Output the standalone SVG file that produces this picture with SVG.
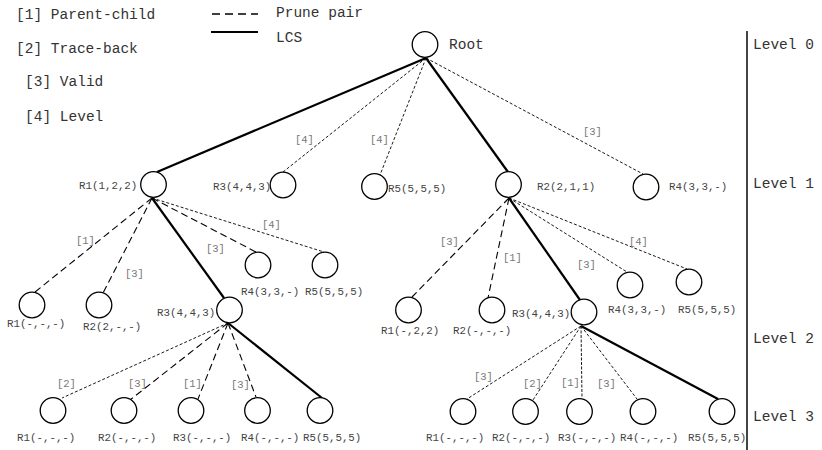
<svg xmlns="http://www.w3.org/2000/svg" width="822" height="450" viewBox="0 0 822 450">
<style>
.big{font-family:"Liberation Mono",monospace;font-size:14.5px;fill:#333}
.nl{font-family:"Liberation Mono",monospace;font-size:10.8px;fill:#444}
.el{font-family:"Liberation Mono",monospace;font-size:10.5px;fill:#777}
.nd{fill:#fff;stroke:#000;stroke-width:1.3}
.lcs{stroke:#000;stroke-width:2.2;fill:none}
.dash{stroke:#000;stroke-width:1.1;stroke-dasharray:7,4;fill:none}
.dot{stroke:#000;stroke-width:0.9;stroke-dasharray:3,2;fill:none}
</style>
<rect width="822" height="450" fill="#fff"/>
<g id="legend">
<text class="big" x="16" y="19">[1] Parent-child</text>
<text class="big" x="16" y="53">[2] Trace-back</text>
<text class="big" x="25" y="86">[3] Valid</text>
<text class="big" x="25" y="121">[4] Level</text>
<line class="dash" x1="212" y1="14" x2="258" y2="14" style="stroke-dasharray:8,5;stroke-width:1.3"/>
<text class="big" x="276" y="17">Prune pair</text>
<line class="lcs" x1="211" y1="32" x2="258" y2="32"/>
<text class="big" x="276" y="42">LCS</text>
</g>
<g id="levels">
<line x1="747" y1="31" x2="747" y2="450" stroke="#444" stroke-width="2"/>
<text class="big" x="753" y="49">Level 0</text>
<text class="big" x="753" y="188">Level 1</text>
<text class="big" x="753" y="343">Level 2</text>
<text class="big" x="753" y="421">Level 3</text>
</g>
<g id="connectors">
<line class="lcs" x1="426" y1="58" x2="157" y2="172"/>
<line class="dot" x1="426" y1="58" x2="283" y2="172"/>
<line class="dot" x1="426" y1="58" x2="380" y2="175"/>
<line class="lcs" x1="426" y1="58" x2="508" y2="172"/>
<line class="dot" x1="426" y1="58" x2="643" y2="174"/>
<line class="dash" x1="152" y1="198" x2="35" y2="292"/>
<line class="dash" x1="152" y1="198" x2="103" y2="293"/>
<line class="lcs" x1="152" y1="198" x2="224" y2="298"/>
<line class="dash" x1="152" y1="198" x2="256" y2="252"/>
<line class="dot" x1="152" y1="198" x2="324" y2="252"/>
<line class="dash" x1="509" y1="198" x2="412" y2="297"/>
<line class="dash" x1="509" y1="198" x2="488" y2="298"/>
<line class="lcs" x1="509" y1="198" x2="580" y2="300"/>
<line class="dot" x1="509" y1="198" x2="627" y2="272"/>
<line class="dot" x1="509" y1="198" x2="687" y2="269"/>
<line class="dot" x1="228" y1="323" x2="62" y2="398"/>
<line class="dash" x1="228" y1="323" x2="130" y2="400"/>
<line class="dash" x1="228" y1="323" x2="198" y2="399"/>
<line class="dash" x1="228" y1="323" x2="256" y2="397"/>
<line class="lcs" x1="228" y1="323" x2="322" y2="398"/>
<line class="dot" x1="581" y1="326" x2="467" y2="399"/>
<line class="dot" x1="581" y1="326" x2="533" y2="400"/>
<line class="dot" x1="581" y1="326" x2="582" y2="398" style="stroke-dasharray:3,1.5"/>
<line class="dot" x1="581" y1="326" x2="637" y2="399"/>
<line class="lcs" x1="581" y1="326" x2="718" y2="399"/>
<text class="el" x="295" y="143">[4]</text>
<text class="el" x="370" y="143">[4]</text>
<text class="el" x="583" y="135">[3]</text>
<text class="el" x="76" y="244">[1]</text>
<text class="el" x="125" y="277">[3]</text>
<text class="el" x="206" y="252">[3]</text>
<text class="el" x="262" y="228">[4]</text>
<text class="el" x="440" y="245">[3]</text>
<text class="el" x="503" y="261">[1]</text>
<text class="el" x="577" y="268">[3]</text>
<text class="el" x="629" y="245">[4]</text>
<text class="el" x="57" y="387">[2]</text>
<text class="el" x="128" y="387">[3]</text>
<text class="el" x="183" y="387">[1]</text>
<text class="el" x="231" y="388">[3]</text>
<text class="el" x="474" y="380">[3]</text>
<text class="el" x="523" y="387">[2]</text>
<text class="el" x="561" y="386">[1]</text>
<text class="el" x="597" y="387">[3]</text>
</g>
<g id="root"><circle class="nd" cx="425" cy="44.5" r="12.8"/><text class="big" x="449" y="49">Root</text></g>
<g id="l1-r1"><circle class="nd" cx="153.5" cy="184.5" r="12.8"/><text class="nl" x="79" y="189">R1(1,2,2)</text></g>
<g id="l1-r3"><circle class="nd" cx="283" cy="185" r="12.8"/><text class="nl" x="213" y="190">R3(4,4,3)</text></g>
<g id="l1-r5"><circle class="nd" cx="374.5" cy="186.5" r="12.8"/><text class="nl" x="388" y="192">R5(5,5,5)</text></g>
<g id="l1-r2"><circle class="nd" cx="508.5" cy="184.5" r="12.8"/><text class="nl" x="537" y="190">R2(2,1,1)</text></g>
<g id="l1-r4"><circle class="nd" cx="646" cy="187" r="12.8"/><text class="nl" x="669" y="190">R4(3,3,-)</text></g>
<g id="l2a-r1"><circle class="nd" cx="32" cy="305" r="12.8"/><text class="nl" x="7" y="327">R1(-,-,-)</text></g>
<g id="l2a-r2"><circle class="nd" cx="99" cy="305" r="12.8"/><text class="nl" x="83" y="330">R2(2,-,-)</text></g>
<g id="l2a-r3"><circle class="nd" cx="229.5" cy="310" r="12.8"/><text class="nl" x="157" y="316">R3(4,4,3)</text></g>
<g id="l2a-r4"><circle class="nd" cx="258" cy="265" r="12.8"/><text class="nl" x="241" y="295">R4(3,3,-)</text></g>
<g id="l2a-r5"><circle class="nd" cx="325" cy="265" r="12.8"/><text class="nl" x="305" y="295">R5(5,5,5)</text></g>
<g id="l2b-r1"><circle class="nd" cx="408.5" cy="310" r="12.8"/><text class="nl" x="381" y="334">R1(-,2,2)</text></g>
<g id="l2b-r2"><circle class="nd" cx="492" cy="310" r="12.8"/><text class="nl" x="453" y="334">R2(-,-,-)</text></g>
<g id="l2b-r3"><circle class="nd" cx="584" cy="312" r="12.8"/><text class="nl" x="512" y="317">R3(4,4,3)</text></g>
<g id="l2b-r4"><circle class="nd" cx="630" cy="285" r="12.8"/><text class="nl" x="608" y="313">R4(3,3,-)</text></g>
<g id="l2b-r5"><circle class="nd" cx="689" cy="282" r="12.8"/><text class="nl" x="678" y="313">R5(5,5,5)</text></g>
<g id="l3a-r1"><circle class="nd" cx="53" cy="410.5" r="12.8"/><text class="nl" x="17" y="441">R1(-,-,-)</text></g>
<g id="l3a-r2"><circle class="nd" cx="124" cy="410.5" r="12.8"/><text class="nl" x="98" y="441">R2(-,-,-)</text></g>
<g id="l3a-r3"><circle class="nd" cx="191" cy="410.5" r="12.8"/><text class="nl" x="173" y="441">R3(-,-,-)</text></g>
<g id="l3a-r4"><circle class="nd" cx="257.5" cy="410.5" r="12.8"/><text class="nl" x="241" y="441">R4(-,-,-)</text></g>
<g id="l3a-r5"><circle class="nd" cx="320" cy="410.5" r="12.8"/><text class="nl" x="303" y="441">R5(5,5,5)</text></g>
<g id="l3b-r1"><circle class="nd" cx="463" cy="411.5" r="12.8"/><text class="nl" x="426" y="441">R1(-,-,-)</text></g>
<g id="l3b-r2"><circle class="nd" cx="525.5" cy="411.5" r="12.8"/><text class="nl" x="492" y="441">R2(-,-,-)</text></g>
<g id="l3b-r3"><circle class="nd" cx="579.5" cy="411.5" r="12.8"/><text class="nl" x="558" y="441">R3(-,-,-)</text></g>
<g id="l3b-r4"><circle class="nd" cx="643" cy="411.5" r="12.8"/><text class="nl" x="620" y="441">R4(-,-,-)</text></g>
<g id="l3b-r5"><circle class="nd" cx="722" cy="411.5" r="12.8"/><text class="nl" x="688" y="441">R5(5,5,5)</text></g>
</svg>
